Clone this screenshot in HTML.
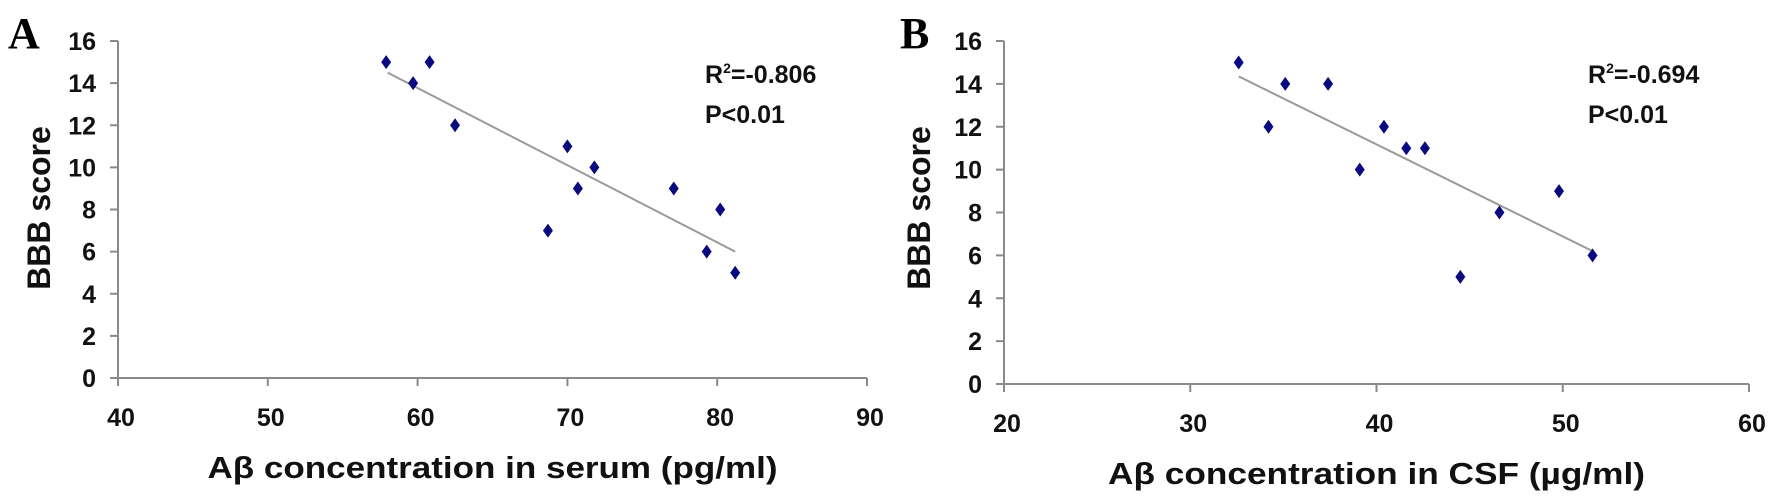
<!DOCTYPE html>
<html><head><meta charset="utf-8"><style>
html,body{margin:0;padding:0;background:#fff;}
svg{display:block;font-family:"Liberation Sans",Arial,sans-serif;font-weight:bold;}
</style></head><body>
<svg id="fig" width="1772" height="496" viewBox="0 0 1772 496" xmlns="http://www.w3.org/2000/svg">
<text x="8" y="48" font-family="Liberation Serif,serif" font-size="44" font-weight="bold">A</text>
<text x="900" y="48" font-family="Liberation Serif,serif" font-size="44" font-weight="bold">B</text>
</svg>
<script>
// Panel A data
const aX = [57.9, 59.7, 60.8, 62.5, 68.7, 70.0, 70.7, 71.8, 77.1, 79.3, 80.2, 81.2];
const aY = [15, 14, 15, 12, 7, 11, 9, 10, 9, 6, 8, 5];
const aTrend = [[58, 14.5], [81.2, 6.0]];
const aXTicks = [40, 50, 60, 70, 80, 90];
// Panel B data
const bX = [32.6, 34.2, 35.1, 37.4, 39.1, 40.4, 41.6, 42.6, 44.5, 46.6, 49.8, 51.6];
const bY = [15, 12, 14, 14, 10, 12, 11, 11, 5, 8, 9, 6];
const bTrend = [[32.6, 14.35], [51.6, 6.2]];
const bXTicks = [20, 30, 40, 50, 60];
const yTicks = [0, 2, 4, 6, 8, 10, 12, 14, 16];

const NS = "http://www.w3.org/2000/svg";
const svg = document.getElementById('fig');
function mk(tag, attrs, parent) {
  const e = document.createElementNS(NS, tag);
  for (const k in attrs) e.setAttribute(k, attrs[k]);
  (parent || svg).appendChild(e);
  return e;
}
function panel(p) {
  const g = mk('g', {});
  
  
  const sx = v => p.x0 + (v - p.xmin) / (p.xmax - p.xmin) * (p.x1 - p.x0);
  const sy = v => p.y0 - v / 16 * (p.y0 - p.y1);
  const ax = mk('path', {d: `M${p.x0} ${p.y1}V${p.y0}H${p.x1}`, stroke: '#8a8a8a', 'stroke-width': 2, fill: 'none'}, g);
  
  
  yTicks.forEach(t => {
    const y = sy(t);
    mk('line', {x1: p.x0 - 8, x2: p.x0, y1: y, y2: y, stroke: '#8a8a8a', 'stroke-width': 2}, g);
    const tx = mk('text', {x: p.x0 - 22, y: y + 9, 'font-size': 25, 'text-anchor': 'end', fill: '#111'}, g);
    tx.textContent = t;
    
    
  });
  p.xticks.forEach(t => {
    const x = sx(t);
    mk('line', {x1: x, x2: x, y1: p.y0, y2: p.y0 + 8, stroke: '#8a8a8a', 'stroke-width': 2}, g);
    const tx = mk('text', {x: x + 3, y: p.y0 + 48, 'font-size': 25, 'text-anchor': 'middle', fill: '#111'}, g);
    tx.textContent = t;
    
    
  });
  const tl = mk('line', {x1: sx(p.trend[0][0]), y1: sy(p.trend[0][1]), x2: sx(p.trend[1][0]), y2: sy(p.trend[1][1]), stroke: '#9a9a9a', 'stroke-width': 2}, g);
  
  
  p.xs.forEach((v, i) => {
    const cx = sx(v), cy = sy(p.ys[i]);
    const d = mk('path', {d: `M${cx} ${cy-7}L${cx+5} ${cy}L${cx} ${cy+7}L${cx-5} ${cy}Z`, fill: '#0a0a80'}, g);
    
    
  });
  const xt = mk('text', {x: (p.x0 + p.x1) / 2, y: p.y0 + 100, 'font-size': 31, 'text-anchor': 'middle', fill: '#111', textLength: p.titleW, lengthAdjust: 'spacingAndGlyphs'}, g);
  xt.textContent = p.title;
  
  
  const yt = mk('text', {x: 0, y: 0, 'font-size': 32, 'text-anchor': 'middle', fill: '#111', transform: `translate(${p.ytx},208) rotate(-90)`}, g);
  yt.textContent = 'BBB score';
  
  
  const r = mk('text', {x: p.rx, y: 83, 'font-size': 25, fill: '#111'}, g);
  r.innerHTML = 'R<tspan font-size="14" dy="-10">2</tspan><tspan dy="10">=' + p.r + '</tspan>';
  
  
  const pv = mk('text', {x: p.rx, y: 123, 'font-size': 25, fill: '#111'}, g);
  pv.textContent = 'P<0.01';
  
  
}
panel({name: 'serum', x0: 118, x1: 867, y0: 378, y1: 41, xmin: 40, xmax: 90, xs: aX, ys: aY, trend: aTrend, xticks: aXTicks,
  title: 'Aβ concentration in serum (pg/ml)', titleW: 570, ytx: 50, rx: 705, r: '-0.806'});
panel({name: 'csf', x0: 1004, x1: 1749, y0: 384, y1: 41, xmin: 20, xmax: 60, xs: bX, ys: bY, trend: bTrend, xticks: bXTicks,
  title: 'Aβ concentration in CSF (µg/ml)', titleW: 537, ytx: 930, rx: 1588, r: '-0.694'});
</script>
</body></html>
